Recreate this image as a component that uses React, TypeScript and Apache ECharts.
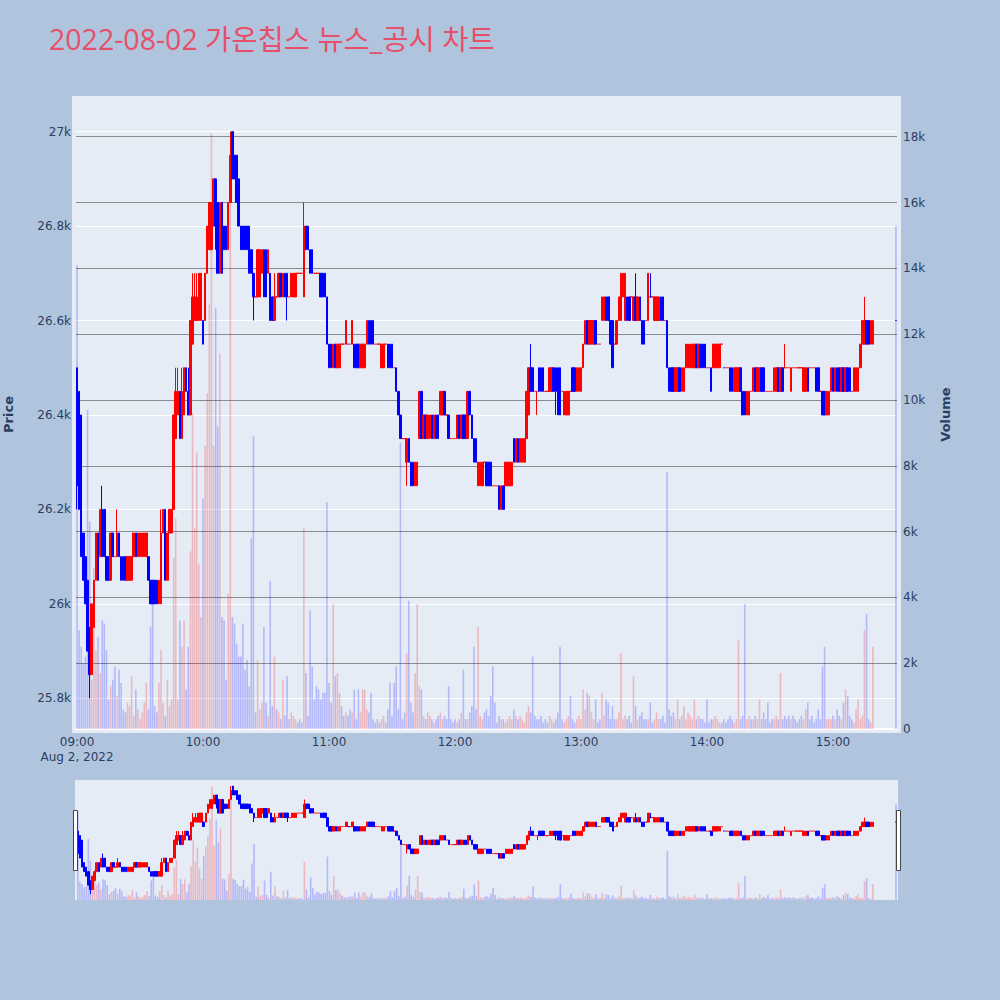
import React, { useEffect, useRef } from "react";
import * as echarts from "echarts";

// Title
const chartTitle = "2022-08-02 가온칩스 뉴스_공시 차트";

// 1-minute candles of the regular session, 09:00 onward: [open, close, low, high]
const regularOHLC: number[][] = [
  [26500,26250,26200,26500],[26450,26200,26200,26450],[26400,26100,26100,26400],[26150,26050,26050,26150],[26100,26000,26000,26100],
  [26050,25900,25900,26050],[25950,25850,25800,25950],[25850,26000,25850,26000],[25950,26050,25950,26050],[26050,26150,26050,26150],
  [26150,26050,26050,26150],[26100,26200,26100,26200],[26200,26100,26100,26250],[26200,26100,26100,26200],[26100,26050,26050,26100],
  [26100,26050,26050,26100],[26050,26150,26050,26150],[26150,26100,26100,26150],[26100,26100,26100,26100],[26100,26150,26100,26200],
  [26150,26100,26100,26150],[26100,26050,26050,26100],[26100,26050,26050,26100],[26100,26050,26050,26100],[26050,26100,26050,26100],
  [26050,26100,26050,26100],[26050,26100,26050,26100],[26100,26150,26100,26150],[26150,26100,26100,26150],[26100,26150,26100,26150],
  [26100,26150,26100,26150],[26100,26150,26100,26150],[26100,26150,26100,26150],[26100,26150,26100,26150],[26100,26050,26050,26100],
  [26050,26000,26000,26050],[26050,26000,26000,26050],[26050,26000,26000,26050],[26050,26000,26000,26050],[26000,26050,26000,26050],
  [26000,26150,26000,26200],[26150,26200,26150,26200],[26200,26050,26050,26200],[26050,26150,26050,26150],[26150,26200,26150,26200],
  [26150,26200,26150,26200],[26200,26400,26200,26400],[26350,26450,26350,26500],[26400,26450,26400,26500],[26450,26350,26350,26450],
  [26350,26450,26350,26500],[26400,26500,26400,26500],[26500,26450,26450,26500],[26450,26400,26400,26500],[26400,26600,26400,26600],
  [26550,26650,26550,26700],[26600,26650,26600,26700],[26600,26650,26600,26700],[26600,26700,26600,26700],[26600,26700,26600,26700],
  [26600,26550,26550,26600],[26600,26700,26600,26700],[26700,26800,26700,26800],[26750,26850,26750,26850],[26750,26850,26750,26850],
  [26800,26900,26800,26900],[26900,26800,26750,26900],[26850,26700,26700,26850],[26700,26850,26700,26850],[26850,26700,26700,26850],
  [26800,26750,26750,26800],[26800,26750,26750,26800],[26750,26850,26750,26850],[26850,26950,26850,27000],[27000,26900,26900,27000],
  [26950,26900,26900,26950],[26950,26850,26850,26950],[26900,26800,26800,26900],[26800,26750,26750,26800],[26800,26750,26750,26800],
  [26800,26750,26750,26800],[26800,26750,26750,26800],[26800,26700,26700,26800],[26750,26700,26700,26750],[26700,26650,26600,26700],
  [26650,26650,26650,26650],[26650,26750,26650,26750],[26650,26750,26650,26750],[26700,26750,26700,26750],[26750,26650,26650,26750],
  [26750,26650,26650,26750],[26700,26750,26700,26750],[26700,26600,26600,26700],[26650,26600,26600,26650],[26600,26650,26600,26700],
  [26650,26650,26650,26650],[26650,26700,26650,26700],[26700,26650,26650,26700],[26650,26700,26650,26700],[26700,26650,26650,26700],
  [26700,26650,26600,26700],[26650,26650,26650,26650],[26650,26700,26650,26700],[26650,26700,26650,26700],[26650,26700,26650,26700],
  [26700,26700,26700,26700],[26700,26700,26700,26700],[26700,26700,26700,26700],[26650,26800,26650,26850],[26800,26750,26750,26800],
  [26800,26750,26750,26800],[26750,26700,26700,26750],[26750,26700,26700,26750],[26700,26700,26700,26700],[26700,26700,26700,26700],
  [26700,26700,26700,26700],[26700,26650,26650,26700],[26700,26650,26650,26700],[26700,26650,26650,26700],[26650,26550,26550,26650],
  [26550,26500,26500,26550],[26550,26500,26500,26550],[26500,26550,26500,26550],[26550,26500,26500,26550],[26500,26550,26500,26550],
  [26500,26550,26500,26550],[26550,26550,26550,26550],[26550,26550,26550,26550],[26550,26600,26550,26600],[26550,26550,26550,26550],
  [26550,26550,26550,26550],[26550,26600,26550,26600],[26550,26500,26500,26550],[26550,26500,26500,26550],[26550,26500,26500,26550],
  [26500,26550,26500,26550],[26500,26550,26500,26550],[26500,26550,26500,26550],[26550,26600,26550,26600],[26600,26550,26550,26600],
  [26600,26550,26550,26600],[26600,26550,26550,26600],[26550,26550,26550,26550],[26550,26550,26550,26550],[26550,26550,26550,26550],
  [26500,26550,26500,26550],[26500,26550,26500,26550],[26550,26550,26550,26550],[26550,26500,26500,26550],[26550,26500,26500,26550],
  [26550,26500,26500,26550],[26500,26500,26500,26500],[26500,26450,26450,26500],[26450,26400,26400,26450],[26400,26350,26350,26400],
  [26350,26350,26350,26350],[26350,26350,26350,26350],[26300,26350,26250,26350],[26350,26300,26300,26350],[26300,26250,26250,26300],
  [26300,26250,26250,26300],[26250,26300,26250,26300],[26250,26300,26250,26300],[26350,26450,26350,26450],[26450,26350,26350,26450],
  [26350,26400,26350,26400],[26400,26350,26350,26400],[26350,26400,26350,26400],[26350,26400,26350,26400],[26400,26350,26350,26400],
  [26350,26400,26350,26400],[26400,26350,26350,26400],[26400,26350,26350,26400],[26400,26450,26400,26450],[26400,26450,26400,26450],
  [26450,26400,26400,26450],[26400,26400,26400,26400],[26400,26350,26350,26400],[26350,26350,26350,26350],[26350,26350,26350,26350],
  [26350,26350,26350,26350],[26350,26400,26350,26400],[26400,26350,26350,26400],[26350,26400,26350,26400],[26400,26350,26350,26400],
  [26400,26350,26350,26400],[26350,26450,26350,26450],[26450,26400,26400,26450],[26400,26350,26350,26400],[26350,26300,26300,26350],
  [26350,26300,26300,26350],[26250,26300,26250,26300],[26250,26300,26250,26300],[26250,26300,26250,26300],[26300,26300,26300,26300],
  [26300,26250,26250,26300],[26300,26250,26250,26300],[26300,26250,26250,26300],[26250,26250,26250,26250],[26250,26250,26250,26250],
  [26250,26250,26250,26250],[26250,26200,26200,26250],[26200,26250,26200,26250],[26250,26200,26200,26250],[26250,26300,26250,26300],
  [26250,26300,26250,26300],[26250,26300,26250,26300],[26250,26300,26250,26300],[26350,26300,26300,26350],[26300,26350,26300,26350],
  [26350,26300,26300,26350],[26300,26350,26300,26350],[26300,26350,26300,26350],[26300,26350,26300,26350],[26350,26450,26350,26450],
  [26400,26500,26400,26500],[26500,26450,26450,26550],[26500,26450,26450,26500],[26450,26450,26450,26450],[26450,26450,26400,26450],
  [26500,26450,26450,26500],[26500,26450,26450,26500],[26500,26450,26450,26500],[26450,26450,26450,26450],[26450,26450,26450,26450],
  [26450,26500,26450,26500],[26450,26500,26450,26500],[26500,26450,26450,26500],[26500,26450,26400,26500],[26500,26400,26400,26500],
  [26500,26400,26400,26500],[26450,26450,26450,26450],[26400,26450,26400,26450],[26400,26450,26400,26450],[26400,26450,26400,26450],
  [26450,26450,26450,26450],[26500,26450,26450,26500],[26500,26450,26450,26500],[26450,26500,26450,26500],[26450,26500,26450,26500],
  [26450,26500,26450,26500],[26500,26550,26500,26550],[26550,26600,26550,26600],[26600,26550,26550,26600],[26550,26600,26550,26600],
  [26550,26600,26550,26600],[26550,26600,26550,26600],[26600,26550,26550,26600],[26550,26550,26550,26550],[26550,26550,26550,26550],
  [26600,26650,26600,26650],[26600,26650,26600,26650],[26650,26600,26600,26650],[26650,26600,26600,26650],[26600,26550,26550,26600],
  [26600,26500,26500,26600],[26550,26550,26550,26550],[26550,26600,26550,26600],[26600,26650,26600,26650],[26600,26700,26600,26700],
  [26650,26700,26650,26700],[26600,26700,26600,26700],[26650,26600,26600,26650],[26650,26600,26600,26650],[26650,26650,26650,26650],
  [26600,26650,26600,26650],[26650,26600,26600,26700],[26600,26650,26600,26650],[26650,26600,26600,26650],[26600,26550,26550,26600],
  [26600,26550,26550,26600],[26600,26600,26600,26600],[26600,26700,26600,26700],[26650,26650,26650,26700],[26650,26650,26650,26650],
  [26600,26650,26600,26650],[26600,26650,26600,26650],[26600,26650,26600,26650],[26650,26600,26600,26650],[26650,26600,26600,26650],
  [26600,26600,26600,26600],[26600,26500,26500,26600],[26500,26450,26450,26500],[26500,26450,26450,26500],[26500,26450,26450,26500],
  [26450,26500,26450,26500],[26450,26500,26450,26500],[26500,26450,26450,26500],[26450,26500,26450,26500],[26450,26500,26450,26500],
  [26500,26550,26500,26550],[26500,26550,26500,26550],[26500,26550,26500,26550],[26500,26550,26500,26550],[26500,26550,26500,26550],
  [26550,26500,26500,26550],[26500,26550,26500,26550],[26550,26500,26500,26550],[26550,26500,26500,26550],[26550,26500,26500,26550],
  [26500,26500,26500,26500],[26500,26500,26500,26500],[26500,26450,26450,26500],[26500,26550,26500,26550],[26500,26550,26500,26550],
  [26500,26550,26500,26550],[26500,26550,26500,26550],[26550,26550,26550,26550],[26500,26500,26500,26500],[26500,26500,26500,26500],
  [26500,26500,26500,26500],[26500,26450,26450,26500],[26500,26450,26450,26500],[26450,26500,26450,26500],[26450,26500,26450,26500],
  [26450,26500,26450,26500],[26500,26450,26450,26500],[26450,26400,26400,26450],[26450,26400,26400,26450],[26400,26450,26400,26450],
  [26400,26450,26400,26450],[26450,26450,26450,26450],[26450,26500,26450,26500],[26500,26450,26450,26500],[26450,26500,26450,26500],
  [26450,26500,26450,26500],[26500,26450,26450,26500],[26500,26450,26450,26500],[26450,26450,26450,26450],[26450,26450,26450,26450],
  [26450,26450,26450,26450],[26450,26450,26450,26450],[26450,26500,26450,26500],[26450,26500,26450,26500],[26500,26450,26450,26500],
  [26450,26500,26450,26500],[26500,26450,26450,26500],[26500,26500,26500,26550],[26500,26500,26500,26500],[26500,26500,26500,26500],
  [26450,26500,26450,26500],[26500,26500,26500,26500],[26500,26500,26500,26500],[26500,26500,26500,26500],[26500,26500,26500,26500],
  [26500,26500,26500,26500],[26450,26500,26450,26500],[26450,26500,26450,26500],[26500,26450,26450,26500],[26500,26500,26500,26500],
  [26500,26500,26500,26500],[26500,26500,26500,26500],[26500,26450,26450,26500],[26500,26450,26450,26500],[26450,26450,26450,26450],
  [26450,26400,26400,26450],[26450,26400,26400,26450],[26400,26450,26400,26450],[26400,26450,26400,26450],[26450,26500,26450,26500],
  [26500,26450,26450,26500],[26450,26500,26450,26500],[26500,26450,26450,26500],[26500,26450,26450,26500],[26450,26500,26450,26500],
  [26500,26450,26450,26500],[26450,26500,26450,26500],[26500,26450,26450,26500],[26500,26450,26450,26500],[26450,26450,26450,26450],
  [26450,26500,26450,26500],[26450,26500,26450,26500],[26450,26500,26450,26500],[26500,26550,26500,26550],[26550,26600,26550,26600],
  [26550,26600,26550,26650],[26600,26550,26550,26600],[26600,26550,26550,26600],[26550,26600,26550,26600],[26550,26600,26550,26600]
];

// 1-minute volumes of the regular session
const regularVolume: number[] = [
  14100,3000,2500,2000,2200,9700,6300,1500,4900,2400,
  2800,1700,3300,3200,2400,900,1300,1500,1900,1000,
  1800,1400,600,500,800,700,1600,400,1200,600,
  300,500,800,1400,600,3100,3800,700,500,1400,
  2400,800,400,1500,700,900,5200,6400,900,3300,
  2500,3300,1200,2500,5400,9600,6100,8400,5000,3400,
  7000,8600,10200,12900,18100,8600,12800,9200,11400,3400,
  3300,1500,4100,16000,3400,3200,2600,2200,2200,3200,
  1800,2100,1300,5800,8900,500,2100,600,800,3100,
  800,400,4500,700,2200,600,500,300,1500,400,
  1600,300,500,400,300,200,300,200,6100,1700,
  400,3600,1900,900,1300,1200,900,1100,1100,6900,
  1400,800,3800,1600,1700,1100,700,400,500,400,
  600,500,1200,300,1200,500,1200,1200,600,500,
  1100,300,200,300,200,300,400,200,600,1400,
  400,1400,1900,600,8700,300,500,2300,3900,800,
  500,1700,3800,1300,1200,400,300,500,400,300,
  200,300,400,500,300,400,300,1300,300,200,
  300,200,300,500,1800,300,300,500,700,2500,
  600,3100,400,300,500,600,400,1000,1900,800,
  200,400,300,300,200,300,400,300,600,400,
  300,400,300,200,500,700,500,2200,400,300,
  300,400,200,300,200,400,300,200,300,500,
  2500,300,200,300,400,1000,300,200,300,400,
  300,1200,600,1100,1000,500,300,900,200,300,
  1100,400,900,800,300,700,300,300,500,2300,
  300,400,300,400,200,1600,700,300,400,500,
  300,300,300,800,200,300,500,300,300,400,
  200,7800,600,400,500,300,900,300,400,700,
  300,500,400,300,900,300,400,300,300,200,
  900,200,300,300,400,300,200,200,300,200,
  300,400,300,200,300,2700,300,400,3800,300,
  400,300,300,400,300,900,300,500,300,800,
  200,300,300,400,300,1700,300,400,300,400,
  300,400,300,200,300,400,300,600,800,300,
  400,200,300,600,300,1900,2500,300,300,300,
  400,300,600,400,300,800,1200,1000,400,300,
  200,600,900,300,400,3000,3500,300,200,2500
];

// Closing single-price auction at 15:30
const auctionTime = "15:30";
const auctionOHLC = [26600, 26600, 26600, 26600];
const auctionVolume = 15300;

// Axis ticks
const hourLabels = ["09:00", "10:00", "11:00", "12:00", "13:00", "14:00", "15:00"];
const dateLabel = "Aug 2, 2022";
const priceTicks = [25800, 26000, 26200, 26400, 26600, 26800, 27000];
const volumeLabelTicks = [0, 2000, 4000, 6000, 8000, 10000, 12000, 14000, 16000, 18000];
const volumeGridTicks = [2000, 4000, 6000, 8000, 10000, 12000, 14000, 16000, 18000];

const TITLE_FONT = '"Open Sans", "Noto Sans CJK KR", sans-serif';
const FONT = '"DejaVu Sans", Verdana, sans-serif';
const TICK_COLOR = "#2a3f5f";
const UP = "#ff0000";
const DOWN = "#0000ff";
const UP_VOL = "rgba(255,0,0,0.22)";
const DOWN_VOL = "rgba(0,0,255,0.22)";

function minuteLabel(h: number, m: number) {
  return String(h).padStart(2, "0") + ":" + String(m).padStart(2, "0");
}

export default function App() {
  const ref = useRef<HTMLDivElement>(null);

  useEffect(() => {
    if (!ref.current) return;
    const chart = echarts.init(ref.current, undefined, { renderer: "svg" });

    // one category per minute, 09:00 .. 15:30
    const categories: string[] = [];
    for (let h = 9; h <= 15; h++) {
      for (let m = 0; m < 60; m++) {
        if (h === 15 && m > 30) break;
        categories.push(minuteLabel(h, m));
      }
    }

    const candleData: any[] = categories.map(() => "-");
    const volData: any[] = categories.map(() => "-");
    regularOHLC.forEach((r, i) => {
      candleData[i] = r;
      volData[i] = { value: regularVolume[i], itemStyle: { color: r[1] > r[0] ? UP_VOL : DOWN_VOL } };
    });
    const ai = categories.indexOf(auctionTime);
    candleData[ai] = auctionOHLC;
    volData[ai] = {
      value: auctionVolume,
      itemStyle: { color: auctionOHLC[1] > auctionOHLC[0] ? UP_VOL : DOWN_VOL },
    };

    const candleStyle = {
      color: UP,
      color0: DOWN,
      borderColor: UP,
      borderColor0: DOWN,
      borderWidth: 1,
    };

    const option: any = {
      animation: false,
      backgroundColor: "#b0c4de",
      title: {
        text: chartTitle,
        left: 49,
        top: 25,
        padding: 0,
        textStyle: { fontFamily: TITLE_FONT, fontSize: 28.5, fontWeight: "normal", color: "#e6506a" },
      },
      graphic: [
        { type: "rect", shape: { x: 72, y: 96, width: 829, height: 637 }, style: { fill: "#e5ecf6" }, z: -10, silent: true },
        { type: "rect", shape: { x: 75, y: 780, width: 823, height: 120 }, style: { fill: "#e5ecf6" }, z: -10, silent: true },
        { type: "rect", shape: { x: 73.5, y: 810.5, width: 4, height: 60 }, style: { fill: "#ffffff", stroke: "#444444", lineWidth: 1 }, z: 100 },
        { type: "rect", shape: { x: 896.5, y: 810.5, width: 4, height: 60 }, style: { fill: "#ffffff", stroke: "#444444", lineWidth: 1 }, z: 100 },
      ],
      grid: [
        { left: 76, top: 100, width: 821, height: 629, show: false, containLabel: false, outerBoundsMode: "none" },
        { left: 76.75, top: 780, width: 820.3, height: 120, show: false, containLabel: false, outerBoundsMode: "none" },
      ],
      xAxis: [
        {
          type: "category",
          gridIndex: 0,
          data: categories,
          boundaryGap: true,
          axisLine: { show: true, onZero: false, lineStyle: { color: "#ffffff", width: 2 } },
          axisTick: { show: false },
          splitLine: { show: false },
          axisLabel: {
            interval: (_i: number, v: string) => hourLabels.indexOf(v) >= 0,
            margin: 5,
            fontFamily: FONT,
            fontSize: 12,
            color: TICK_COLOR,
            lineHeight: 15,
            formatter: (v: string) => (v === hourLabels[0] ? v + "\n" + dateLabel : v),
          },
        },
        {
          type: "category",
          gridIndex: 1,
          data: categories,
          boundaryGap: true,
          show: false,
          splitLine: { show: false },
        },
      ],
      yAxis: [
        {
          type: "value",
          gridIndex: 0,
          min: 25735,
          max: 27067,
          position: "left",
          name: "Price",
          nameLocation: "middle",
          nameGap: 61,
          nameRotate: 90,
          nameTextStyle: { fontFamily: FONT, fontSize: 13, fontWeight: "bold", color: TICK_COLOR },
          axisLine: { show: false },
          axisTick: { show: false, customValues: priceTicks },
          axisLabel: {
            customValues: priceTicks,
            margin: 5,
            fontFamily: FONT,
            fontSize: 12,
            color: TICK_COLOR,
            formatter: (v: number) => v / 1000 + "k",
          },
          splitLine: { show: true, lineStyle: { color: "#ffffff", width: 1 } },
        },
        {
          type: "value",
          gridIndex: 0,
          min: 0,
          max: 19115,
          position: "right",
          name: "Volume",
          nameLocation: "middle",
          nameGap: 42,
          nameRotate: 90,
          nameTextStyle: { fontFamily: FONT, fontSize: 13, fontWeight: "bold", color: TICK_COLOR },
          axisLine: { show: false },
          axisTick: { show: false, customValues: volumeGridTicks },
          axisLabel: {
            customValues: volumeLabelTicks,
            margin: 6,
            fontFamily: FONT,
            fontSize: 12,
            color: TICK_COLOR,
            formatter: (v: number) => (v === 0 ? "0" : v / 1000 + "k"),
          },
          splitLine: { show: true, lineStyle: { color: "#8c8c8c", width: 1 } },
        },
        { type: "value", gridIndex: 1, min: 25735, max: 27067, show: false, splitLine: { show: false } },
        { type: "value", gridIndex: 1, min: 0, max: 19115, show: false, splitLine: { show: false } },
      ],
      series: [
        {
          type: "bar",
          xAxisIndex: 0,
          yAxisIndex: 1,
          data: volData,
          barWidth: 1.6,
          z: 1,
        },
        {
          type: "candlestick",
          xAxisIndex: 0,
          yAxisIndex: 0,
          data: candleData,
          barWidth: 2,
          itemStyle: candleStyle,
          z: 3,
        },
        {
          type: "bar",
          xAxisIndex: 1,
          yAxisIndex: 3,
          data: volData,
          barWidth: 1.6,
          z: 1,
        },
        {
          type: "candlestick",
          xAxisIndex: 1,
          yAxisIndex: 2,
          data: candleData,
          barWidth: 2,
          itemStyle: candleStyle,
          z: 3,
        },
      ],
    };

    chart.setOption(option);
    return () => chart.dispose();
  }, []);

  return (
    <div
      ref={ref}
      style={{ position: "fixed", left: 0, top: 0, width: 1000, height: 1000 }}
    />
  );
}
